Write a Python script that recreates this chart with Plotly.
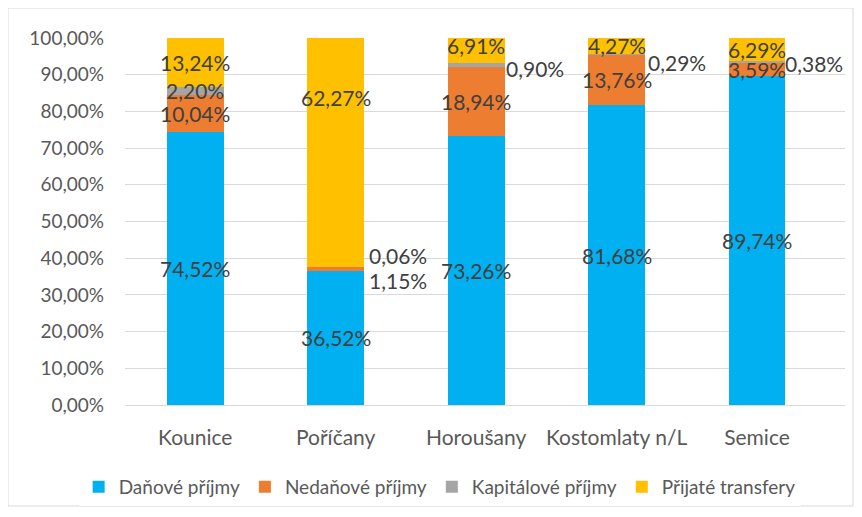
import plotly.graph_objects as go

obce = ["Kounice", "Poříčany", "Horoušany", "Kostomlaty n/L", "Semice"]
danove = [74.52, 36.52, 73.26, 81.68, 89.74]
nedanove = [10.04, 1.15, 18.94, 13.76, 3.59]
kapitalove = [2.20, 0.06, 0.90, 0.29, 0.38]
transfery = [13.24, 62.27, 6.91, 4.27, 6.29]

serie = [
    ("Daňové příjmy", danove, "#00B0F0"),
    ("Nedaňové příjmy", nedanove, "#ED7D31"),
    ("Kapitálové příjmy", kapitalove, "#A5A5A5"),
    ("Přijaté transfery", transfery, "#FFC000"),
]

# posunuté popisky (jako v Excelu ručně přesunuté), v pixelech
posuny = {
    ("Poříčany", "Kapitálové příjmy"): (62, 11),
    ("Poříčany", "Nedaňové příjmy"): (62, -12),
    ("Poříčany", "Přijaté transfery"): (0, 55),
    ("Horoušany", "Kapitálové příjmy"): (59, -4),
    ("Horoušany", "Přijaté transfery"): (0, 5),
    ("Kostomlaty n/L", "Kapitálové příjmy"): (60, -8),
    ("Semice", "Kapitálové příjmy"): (57, -2),
}

FONT = "Lato, Open Sans, sans-serif"

def fmt(v):
    return f"{v:.2f}".replace(".", ",") + "%"

fig = go.Figure()
annotations = []
base = [0.0] * len(obce)
for name, vals, color in serie:
    fig.add_trace(go.Bar(
        x=obce, y=vals, name=name,
        marker=dict(color=color, line=dict(width=0)),
        width=0.405,
    ))
    for i, (obec, v) in enumerate(zip(obce, vals)):
        dx, dy = posuny.get((obec, name), (0, 0))
        annotations.append(dict(
            x=obec, y=base[i] + v / 2, xref="x", yref="y",
            text=fmt(v), showarrow=False,
            xshift=dx, yshift=dy,
            font=dict(size=21, color="#404040", family=FONT),
        ))
        base[i] += v

# stránka má okraj 8 px, proto menší figura
W, H = 846, 501
l, r, t, b = 117, 9, 30, 104
pw, ph = W - l - r, H - t - b

# rámeček grafu
shapes = [dict(
    type="rect", xref="paper", yref="paper",
    x0=(0 - l) / pw, x1=(W - 1 - l) / pw,
    y0=(ph + t - (H - 3)) / ph, y1=(ph + t - 0) / ph,
    line=dict(color="#D9D9D9", width=1), fillcolor="rgba(0,0,0,0)", layer="below",
)]

fig.update_layout(
    width=W, height=H,
    barmode="stack",
    plot_bgcolor="white", paper_bgcolor="white",
    margin=dict(l=l, r=r, t=t, b=b, autoexpand=False),
    font=dict(family=FONT, size=19, color="#595959"),
    yaxis=dict(
        range=[0, 100],
        tickvals=list(range(0, 101, 10)),
        ticktext=[fmt(v) for v in range(0, 101, 10)],
        tickfont=dict(size=19),
        showgrid=True, gridcolor="#D9D9D9", gridwidth=1,
        zeroline=False, showline=False, ticks="", ticklabelstandoff=20,
    ),
    xaxis=dict(
        showgrid=False, showline=True, linecolor="#D9D9D9", linewidth=1,
        ticks="", ticklabelstandoff=14, tickfont=dict(size=21),
    ),
    legend=dict(
        orientation="h", x=0.437, xanchor="center", y=(397 - 479) / ph, yanchor="middle",
        font=dict(size=19, color="#595959"), traceorder="normal",
        itemwidth=30,
    ),
    annotations=annotations,
    shapes=shapes,
)

fig.write_html("out.html")
